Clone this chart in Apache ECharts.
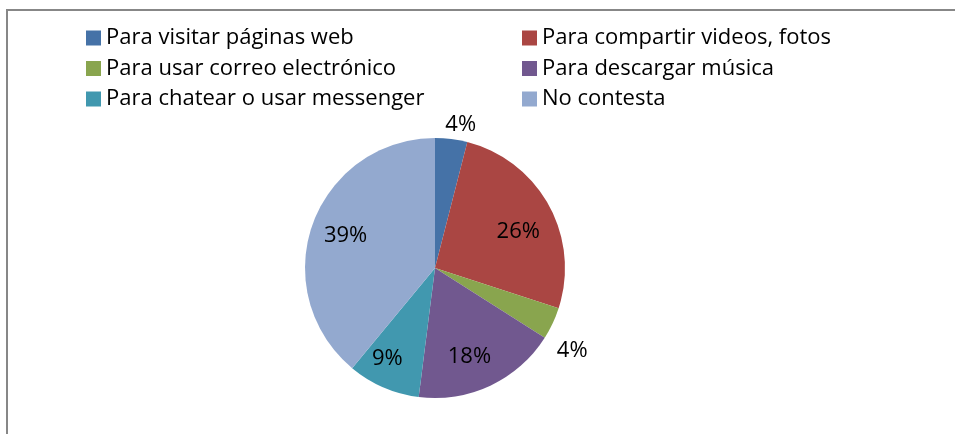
<!DOCTYPE html>
<html>
<head>
<meta charset="utf-8">
<script src="https://cdn.jsdelivr.net/npm/echarts@6/dist/echarts.min.js"></script>
<style>
  html, body { margin: 0; padding: 0; background: #fff; }
  #chart { width: 955px; height: 434px; }
</style>
</head>
<body>
<div id="chart"></div>
<script>
// categories and values (percent)
var categories = [
  'Para visitar páginas web',
  'Para compartir videos, fotos',
  'Para usar correo electrónico',
  'Para descargar música',
  'Para chatear o usar messenger',
  'No contesta'
];
var values = [4, 26, 4, 18, 9, 39];
var colors = ['#4572A7', '#AA4643', '#89A54E', '#71588F', '#4198AF', '#93A9CF'];
// which slices get their label outside the pie
var outsideLabel = [true, false, true, false, false, false];

var font = 'Open Sans, sans-serif';
var chart = echarts.init(document.getElementById('chart'));

var mainData = categories.map(function (name, i) {
  return {
    name: name,
    value: values[i],
    itemStyle: { color: colors[i] },
    label: { show: outsideLabel[i] }
  };
});
// transparent copy used only to place the inside labels a bit further out
var labelData = categories.map(function (name, i) {
  return {
    name: name,
    value: values[i],
    label: { show: !outsideLabel[i] }
  };
});

var legendText = { fontFamily: font, fontSize: 22, color: '#000' };

var option = {
  animation: false,
  color: colors,
  graphic: [{
    type: 'rect',
    shape: { x: 7, y: 10, width: 960, height: 440 },
    style: { fill: 'none', stroke: '#878787', lineWidth: 2 },
    silent: true
  }],
  legend: [
    {
      orient: 'vertical', left: 81, top: 22,
      itemWidth: 15, itemHeight: 15, itemGap: 8.5,
      icon: 'rect',
      textStyle: legendText,
      data: [categories[0], categories[2], categories[4]]
    },
    {
      orient: 'vertical', left: 517, top: 22,
      itemWidth: 15, itemHeight: 15, itemGap: 8.5,
      icon: 'rect',
      textStyle: legendText,
      data: [categories[1], categories[3], categories[5]]
    }
  ],
  series: [
    {
      type: 'pie',
      center: [435, 268],
      radius: [0, 130],
      startAngle: 90,
      clockwise: true,
      avoidLabelOverlap: false,
      silent: true,
      label: {
        position: 'outside',
        formatter: '{d}%',
        fontFamily: font, fontSize: 22, color: '#000'
      },
      labelLine: { show: false, length: 8, length2: 0 },
      labelLayout: function (params) {
        if (params.dataIndex === 2) return { dx: -8, dy: 24 };
        if (params.dataIndex === 0) return { dx: -12, dy: -6 };
        return {};
      },
      data: mainData
    },
    {
      type: 'pie',
      center: [435, 268],
      radius: [0, 184],
      startAngle: 90,
      clockwise: true,
      silent: true,
      legendHoverLink: false,
      itemStyle: { color: 'rgba(0,0,0,0)' },
      label: {
        position: 'inside',
        formatter: '{d}%',
        fontFamily: font, fontSize: 22, color: '#000'
      },
      labelLine: { show: false },
      labelLayout: function (params) {
        if (params.dataIndex === 1) return { dy: 10 };
        if (params.dataIndex === 4) return { dx: -10, dy: 4 };
        if (params.dataIndex === 3) return { dx: -6, dy: 3 };
        return {};
      },
      data: labelData
    }
  ]
};
chart.setOption(option);
</script>
</body>
</html>
